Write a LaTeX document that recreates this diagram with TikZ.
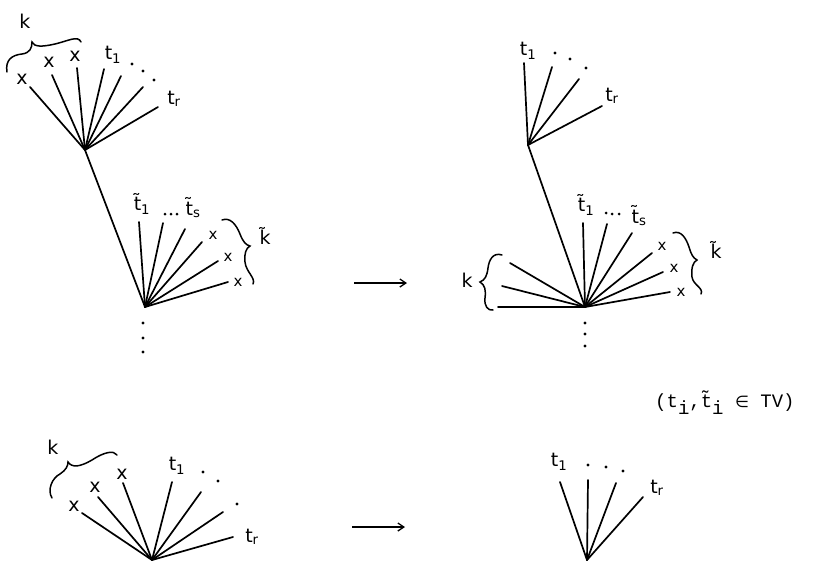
\documentclass[tikz,border=0pt]{standalone}
\usepackage{fontspec}
\setsansfont{DejaVu Sans}
\setmonofont{Liberation Mono}
\newfontfamily\symf{DejaVu Sans}
\usetikzlibrary{arrows.meta}
\begin{document}
\begin{tikzpicture}[x=1pt,y=-1pt,
  edge/.style={line width=1.7pt,line cap=round},
  lbl/.style={inner sep=0pt,font=\sffamily\fontsize{19}{20}\selectfont},
  sml/.style={inner sep=0pt,font=\sffamily\fontsize{15}{16}\selectfont},
  dotm/.style={circle,fill,inner sep=0pt,minimum size=3.2pt},
  brc/.style={line width=1.5pt,line cap=round},
  arr/.style={line width=1.3pt,-{Straight Barb[length=6pt,width=8pt]}},
  note/.style={inner sep=0pt,font=\ttfamily\fontsize{19}{20}\selectfont}]
\useasboundingbox (0,0) rectangle (822,562);
% ---------- Tree A (top left)
\coordinate (A) at (85,150);
\coordinate (a1) at (30,87); \coordinate (a2) at (52,75); \coordinate (a3) at (77,68);
\coordinate (a4) at (104,69); \coordinate (a5) at (121,76); \coordinate (a6) at (143,87);
\coordinate (a7) at (158,107);
\foreach \i in {1,...,7} \draw[edge] (A) -- (a\i);
\node[lbl] (ax1) at (22,79) {x};
\node[lbl] (ax2) at (49,62) {x};
\node[lbl] (ax3) at (75,56) {x};
\node[lbl] (at1) at (113,55) {t\textsubscript{1}};
\node[lbl] (atr) at (174,99) {t\textsubscript{r}};
\node[dotm] (ad1) at (132,64) {}; \node[dotm] (ad2) at (143,71) {}; \node[dotm] (ad3) at (154,80) {};
\node[lbl] (ak) at (25,21) {k};
\draw[brc] (7,72) .. controls (5,60) and (12,55) .. (22,54) .. controls (30,53) and (32,48) .. (32,42)
  .. controls (34,47) and (42,47) .. (55,44) .. controls (68,41) and (78,35) .. (81,42);
% ---------- Tree B
\coordinate (B) at (145,307);
\draw[edge] (A) -- (B);
\coordinate (b1) at (139,222); \coordinate (b2) at (163,223); \coordinate (b3) at (185,229);
\coordinate (b4) at (202,242); \coordinate (b5) at (218,261); \coordinate (b6) at (228,282);
\foreach \i in {1,...,6} \draw[edge] (B) -- (b\i);
\node[lbl] (bt1) at (142,204) {\~{t}\textsubscript{1}};
\node[dotm,minimum size=3pt] (bd1) at (165,214) {}; \node[dotm,minimum size=3pt] (bd2) at (171,214) {}; \node[dotm,minimum size=3pt] (bd3) at (177,214) {};
\node[lbl] (bts) at (193,208) {\~{t}\textsubscript{s}};
\node[sml] (bx1) at (213,235) {x};
\node[sml] (bx2) at (228,257) {x};
\node[sml] (bx3) at (238,282) {x};
\draw[brc] (222,220) .. controls (230,217) and (236,224) .. (240,234) .. controls (243,242) and (246,245) .. (250,246)
  .. controls (246,248) and (244,254) .. (245,262) .. controls (246,272) and (256,278) .. (253,284);
\node[lbl] (bk) at (265,236) {\~{k}};
\node[dotm] (bv1) at (143,323) {}; \node[dotm] (bv2) at (143,338) {}; \node[dotm] (bv3) at (143,352) {};
% ---------- arrows
\coordinate (r1s) at (354,283); \coordinate (r1e) at (407,283);
\draw[arr] (r1s) -- (r1e);
\coordinate (r2s) at (352,527); \coordinate (r2e) at (405,527);
\draw[arr] (r2s) -- (r2e);
% ---------- Tree C (top right)
\coordinate (C) at (528,145);
\coordinate (c1) at (524,63); \coordinate (c2) at (552,67); \coordinate (c3) at (579,79); \coordinate (c4) at (602,106);
\foreach \i in {1,...,4} \draw[edge] (C) -- (c\i);
\node[lbl] (ct1) at (528,51) {t\textsubscript{1}};
\node[lbl] (ctr) at (612,96) {t\textsubscript{r}};
\node[dotm] (cd1) at (555,53) {}; \node[dotm] (cd2) at (570,59) {}; \node[dotm] (cd3) at (586,68) {};
% ---------- Tree D
\coordinate (D) at (585,307);
\draw[edge] (C) -- (D);
\coordinate (d1) at (583,223); \coordinate (d2) at (607,224); \coordinate (d3) at (632,233);
\coordinate (d4) at (652,253); \coordinate (d5) at (663,272); \coordinate (d6) at (670,292);
\coordinate (d7) at (510,263); \coordinate (d8) at (502,286); \coordinate (d9) at (498,307);
\foreach \i in {1,...,9} \draw[edge] (D) -- (d\i);
\node[lbl] (dt1) at (586,205) {\~{t}\textsubscript{1}};
\node[dotm,minimum size=3pt] (dd1) at (606,213) {}; \node[dotm,minimum size=3pt] (dd2) at (612,214) {}; \node[dotm,minimum size=3pt] (dd3) at (619,214) {};
\node[lbl] (dts) at (639,216) {\~{t}\textsubscript{s}};
\node[sml] (dx1) at (662,246) {x};
\node[sml] (dx2) at (674,268) {x};
\node[sml] (dx3) at (681,292) {x};
\draw[brc] (673,233) .. controls (681,230) and (686,238) .. (689,247) .. controls (691,254) and (693,258) .. (697,260)
  .. controls (693,262) and (691,268) .. (692,277) .. controls (693,285) and (704,288) .. (701,294);
\node[lbl] (dk) at (716,250) {\~{k}};
\draw[brc] (502,255) .. controls (493,252) and (489,260) .. (488,268) .. controls (487,276) and (485,280) .. (480,282)
  .. controls (485,285) and (486,290) .. (485,298) .. controls (484,306) and (488,311) .. (493,310);
\node[lbl] (dkk) at (467,280) {k};
\node[dotm] (dv1) at (585,323) {}; \node[dotm] (dv2) at (585,334) {}; \node[dotm] (dv3) at (585,346) {};
% ---------- note
\node[note,anchor=base west] (nt) at (655,407) {(t\raisebox{-7pt}{i},\~{t}\raisebox{-7pt}{i} {\symf\fontsize{16}{16}\selectfont ∈} TV)};
% ---------- Tree E (bottom left)
\coordinate (E) at (152,560);
\coordinate (e1) at (82,513); \coordinate (e2) at (98,497); \coordinate (e3) at (123,483);
\coordinate (e4) at (172,482); \coordinate (e5) at (201,492); \coordinate (e6) at (223,512); \coordinate (e7) at (233,537);
\foreach \i in {1,...,7} \draw[edge] (E) -- (e\i);
\node[lbl] (ex1) at (74,506) {x};
\node[lbl] (ex2) at (95,487) {x};
\node[lbl] (ex3) at (122,474) {x};
\node[lbl] (et1) at (177,466) {t\textsubscript{1}};
\node[lbl] (etr) at (252,537) {t\textsubscript{r}};
\node[dotm] (ed1) at (203,472) {}; \node[dotm] (ed2) at (218,481) {}; \node[dotm] (ed3) at (237,504) {};
\node[lbl] (ek) at (53,447) {k};
\draw[brc] (52,498) .. controls (47,490) and (52,478) .. (60,474) .. controls (66,470) and (68,466) .. (68,462)
  .. controls (72,468) and (80,467) .. (92,460) .. controls (104,452) and (114,450) .. (117,455);
% ---------- Tree F (bottom right)
\coordinate (F) at (587,560);
\coordinate (f1) at (560,482); \coordinate (f2) at (588,480); \coordinate (f3) at (616,483); \coordinate (f4) at (643,497);
\foreach \i in {1,...,4} \draw[edge] (F) -- (f\i);
\node[lbl] (ft1) at (559,462) {t\textsubscript{1}};
\node[lbl] (ftr) at (657,488) {t\textsubscript{r}};
\node[dotm] (fd1) at (588,465) {}; \node[dotm] (fd2) at (606,467) {}; \node[dotm] (fd3) at (623,471) {};
\end{tikzpicture}
\end{document}
